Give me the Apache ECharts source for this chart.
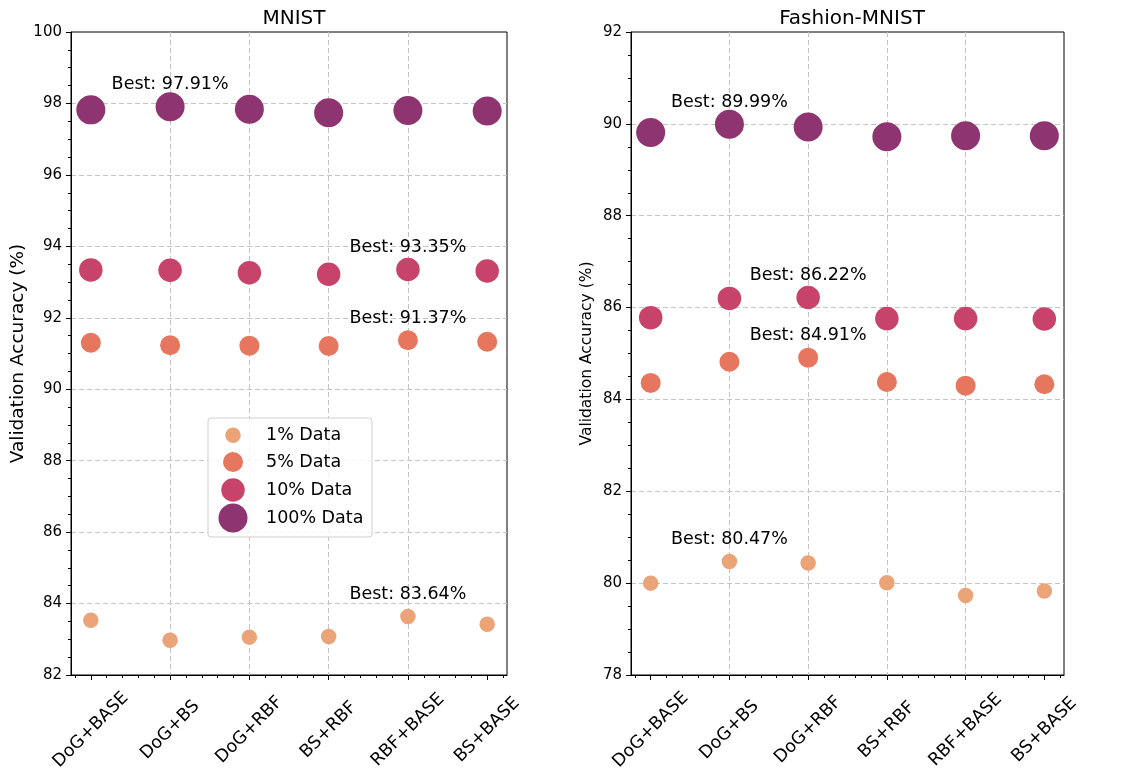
<!DOCTYPE html>
<html>
<head>
<meta charset="utf-8">
<script src="https://cdn.jsdelivr.net/npm/echarts@6/dist/echarts.min.js"></script>
<style>
  html, body { margin: 0; padding: 0; background: #fff; }
  #chart { width: 1125px; height: 774px; }
</style>
</head>
<body>
<div id="chart"></div>
<script>
// categories on the x axis
const methods = ['DoG+BASE', 'DoG+BS', 'DoG+RBF', 'BS+RBF', 'RBF+BASE', 'BS+BASE']
const dataLabels = ['1% Data', '5% Data', '10% Data', '100% Data']

// MNIST validation accuracy (%)
const mnist1 = [83.53, 82.97, 83.06, 83.08, 83.64, 83.42]
const mnist5 = [91.30, 91.23, 91.22, 91.21, 91.37, 91.33]
const mnist10 = [93.34, 93.33, 93.26, 93.22, 93.35, 93.31]
const mnist100 = [97.82, 97.91, 97.84, 97.74, 97.80, 97.79]

// Fashion-MNIST validation accuracy (%)
const fashion1 = [80.00, 80.47, 80.44, 80.01, 79.73, 79.83]
const fashion5 = [84.36, 84.82, 84.91, 84.38, 84.30, 84.33]
const fashion10 = [85.78, 86.20, 86.22, 85.76, 85.76, 85.75]
const fashion100 = [89.81, 89.99, 89.93, 89.72, 89.74, 89.74]

const colors = ['#eba477', '#e7765f', '#c8436a', '#8e3571']
const sizes = [15.5, 20, 23.5, 29]
const font = 'DejaVu Sans'

const chart = echarts.init(document.getElementById('chart'))

function makeSeries(name, values, idx, axisIdx) {
  let best = 0
  values.forEach((v, i) => { if (v > values[best]) best = i })
  return {
    name: name,
    type: 'scatter',
    xAxisIndex: axisIdx,
    yAxisIndex: axisIdx,
    symbolSize: sizes[idx],
    itemStyle: { color: colors[idx], opacity: 1 },
    data: values.map((v, i) => ({
      value: [i, v],
      label: {
        show: i === best,
        position: 'inside',
        align: 'center',
        verticalAlign: 'bottom',
        offset: [0, -13],
        formatter: 'Best: ' + v.toFixed(2) + '%',
        color: '#000',
        fontSize: 17.5,
        fontFamily: font
      }
    })),
    emphasis: { disabled: true }
  }
}

function xAxisFor(gridIdx) {
  return {
    type: 'value',
    gridIndex: gridIdx,
    min: -0.25,
    max: 5.25,
    splitNumber: 5,
    axisLine: { show: true, onZero: false, lineStyle: { color: '#000', width: 1 } },
    axisTick: { show: true, length: 5, customValues: [0, 1, 2, 3, 4, 5], lineStyle: { color: '#000' } },
    minorTick: { show: true, splitNumber: 5, length: 3, lineStyle: { color: '#000' } },
    axisLabel: {
      customValues: [0, 1, 2, 3, 4, 5],
      formatter: (v) => methods[Math.round(v)],
      rotate: 45,
      align: 'center',
      verticalAlign: 'middle',
      margin: 55,
      color: '#000',
      fontSize: 17.5,
      fontFamily: font
    },
    splitLine: {
      show: true,
      showMinLine: false,
      showMaxLine: false,
      lineStyle: { color: '#c4c4c4', type: [5, 3], width: 1 }
    }
  }
}

function yAxisFor(gridIdx, min, max, nameSize, nameGap) {
  return {
    type: 'value',
    gridIndex: gridIdx,
    min: min,
    max: max,
    interval: 2,
    name: 'Validation Accuracy (%)',
    nameLocation: 'middle',
    nameGap: nameGap,
    nameTextStyle: { color: '#000', fontSize: nameSize, fontFamily: font },
    axisLine: { show: true, onZero: false, lineStyle: { color: '#000', width: 1 } },
    axisTick: { show: true, length: 5, lineStyle: { color: '#000' } },
    minorTick: { show: true, splitNumber: 4, length: 3, lineStyle: { color: '#000' } },
    axisLabel: { color: '#000', fontSize: 15, fontFamily: font, margin: 9 },
    splitLine: {
      show: true,
      showMinLine: false,
      showMaxLine: false,
      lineStyle: { color: '#c4c4c4', type: [5, 3], width: 1 }
    }
  }
}

// one legend per series so each icon keeps its own size
const legendRows = [434, 462, 490, 518]
const legends = dataLabels.map((name, i) => ({
  data: [name],
  orient: 'vertical',
  left: 233 - sizes[i] / 2,
  top: legendRows[i] - sizes[i] / 2,
  padding: 0,
  itemWidth: sizes[i],
  itemHeight: sizes[i],
  selectedMode: false,
  textStyle: { color: '#000', fontSize: 17.5, fontFamily: font, padding: [0, 0, 0, 28 - sizes[i] / 2] }
}))

const option = {
  backgroundColor: '#fff',
  animation: false,
  title: [
    { text: 'MNIST', left: 289, top: 4, textAlign: 'center',
      textStyle: { color: '#000', fontSize: 20, fontWeight: 'normal', fontFamily: font } },
    { text: 'Fashion-MNIST', left: 847, top: 4, textAlign: 'center',
      textStyle: { color: '#000', fontSize: 20, fontWeight: 'normal', fontFamily: font } }
  ],
  grid: [
    { left: 71, top: 32, width: 436, height: 643, show: true, borderColor: '#000', borderWidth: 1, backgroundColor: 'transparent' },
    { left: 631, top: 32, width: 433, height: 643, show: true, borderColor: '#000', borderWidth: 1, backgroundColor: 'transparent' }
  ],
  xAxis: [xAxisFor(0), xAxisFor(1)],
  yAxis: [yAxisFor(0, 82, 100, 18.5, 43), yAxisFor(1, 78, 92, 15.5, 36)],
  legend: legends,
  graphic: [{
    type: 'rect',
    z: 3,
    shape: { x: 208, y: 418, width: 164, height: 119, r: 3 },
    style: { fill: 'rgba(255,255,255,0.8)', stroke: '#d0d0d0', lineWidth: 1 }
  }],
  series: [
    makeSeries(dataLabels[0], mnist1, 0, 0),
    makeSeries(dataLabels[1], mnist5, 1, 0),
    makeSeries(dataLabels[2], mnist10, 2, 0),
    makeSeries(dataLabels[3], mnist100, 3, 0),
    makeSeries(dataLabels[0], fashion1, 0, 1),
    makeSeries(dataLabels[1], fashion5, 1, 1),
    makeSeries(dataLabels[2], fashion10, 2, 1),
    makeSeries(dataLabels[3], fashion100, 3, 1)
  ]
}

chart.setOption(option)
</script>
</body>
</html>
